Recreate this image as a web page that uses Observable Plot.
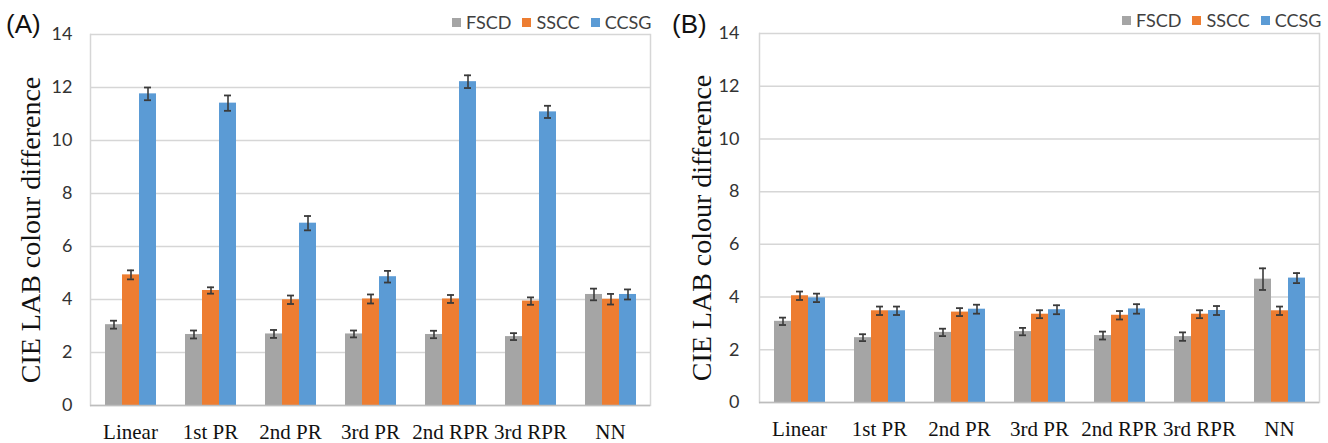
<!DOCTYPE html>
<html>
<head>
<meta charset="utf-8">
<script src="https://cdn.jsdelivr.net/npm/d3@7"></script>
<script src="https://cdn.jsdelivr.net/npm/@observablehq/plot@0.6"></script>
<style>
  html, body { margin: 0; padding: 0; background: #fff; }
  #wrap { position: relative; width: 1328px; height: 443px; overflow: hidden; background: #fff; }
  .panel { position: absolute; top: 0; width: 664px; height: 443px; }
  .tag { position: absolute; font-family: "Liberation Sans", Arial, sans-serif; font-size: 26px; line-height: 1; color: #111; }
  .leg { position: absolute; white-space: nowrap; width: max-content; }
  .leg, .leg * { font-family: Lato, sans-serif !important; font-size: 18px !important; color: #404040 !important; }
  .leg > div { min-height: 0 !important; margin: 0 !important; display: flex !important; flex-wrap: nowrap !important; align-items: center !important; width: max-content !important; }
  .leg > div > span, .leg > div > div { margin-right: 11px !important; display: inline-flex !important; align-items: center !important; }
  .leg svg { margin-right: 5px !important; }
</style>
</head>
<body>
<div id="wrap"></div>
<script>
const categories = ["Linear", "1st PR", "2nd PR", "3rd PR", "2nd RPR", "3rd RPR", "NN"];
const series = ["FSCD", "SSCC", "CCSG"];
const colors = ["#a5a5a5", "#ed7d31", "#5b9bd5"];
const yTicks = [0, 2, 4, 6, 8, 10, 12, 14];
const yTitle = "CIE LAB colour difference";

// Panel (A)
const aFSCD = [3.05, 2.68, 2.70, 2.70, 2.68, 2.60, 4.19];
const aSSCC = [4.93, 4.34, 3.99, 4.02, 4.02, 3.94, 4.01];
const aCCSG = [11.76, 11.41, 6.88, 4.86, 12.22, 11.08, 4.19];
const aErrFSCD = [0.15, 0.15, 0.15, 0.13, 0.14, 0.13, 0.22];
const aErrSSCC = [0.17, 0.12, 0.16, 0.17, 0.15, 0.14, 0.20];
const aErrCCSG = [0.24, 0.29, 0.27, 0.22, 0.24, 0.23, 0.19];

// Panel (B)
const bFSCD = [3.08, 2.46, 2.66, 2.69, 2.54, 2.50, 4.68];
const bSSCC = [4.05, 3.48, 3.43, 3.35, 3.31, 3.35, 3.48];
const bCCSG = [3.97, 3.48, 3.54, 3.52, 3.55, 3.49, 4.72];
const bErrFSCD = [0.14, 0.13, 0.14, 0.14, 0.15, 0.16, 0.41];
const bErrSSCC = [0.16, 0.16, 0.15, 0.15, 0.16, 0.15, 0.16];
const bErrCCSG = [0.16, 0.16, 0.17, 0.17, 0.18, 0.17, 0.19];

function buildRows(vals, errs) {
  const rows = [];
  categories.forEach((c, i) => {
    series.forEach((s, j) => {
      rows.push({cat: c, series: s, value: vals[j][i], err: errs[j][i]});
    });
  });
  return rows;
}

const rowsA = buildRows([aFSCD, aSSCC, aCCSG], [aErrFSCD, aErrSSCC, aErrCCSG]);
const rowsB = buildRows([bFSCD, bSSCC, bCCSG], [bErrFSCD, bErrSSCC, bErrCCSG]);

const serif = "'Liberation Serif', 'Times New Roman', serif";

function panel(rows, m, titleDx) {
  return Plot.plot({
    width: 664,
    height: 443,
    marginLeft: m.left,
    marginRight: m.right,
    marginTop: m.top,
    marginBottom: m.bottom,
    style: {background: "#fff", overflow: "visible"},
    fx: {domain: categories, padding: 0, label: null},
    x: {domain: series, paddingInner: 0, paddingOuter: 0.74, axis: null},
    y: {domain: [0, 14], axis: null},
    color: {domain: series, range: colors},
    marks: [
      Plot.gridY(yTicks, {stroke: "#d6d6d6", strokeOpacity: 1, strokeWidth: 1.5}),
      Plot.frame({anchor: "left", fx: categories[0], stroke: "#d6d6d6", strokeWidth: 1.5}),
      Plot.frame({anchor: "right", fx: categories[categories.length - 1], stroke: "#d6d6d6", strokeWidth: 1.5}),
      Plot.barY(rows, {fx: "cat", x: "series", y: "value", fill: "series"}),
      Plot.ruleY([0], {stroke: "#bdbdbd", strokeWidth: 1.5}),
      Plot.ruleX(rows, {fx: "cat", x: "series", y1: d => d.value - d.err, y2: d => d.value + d.err, stroke: "#3a3a3a", strokeWidth: 1.6}),
      Plot.tickY(rows, {fx: "cat", x: "series", y: d => d.value - d.err, insetLeft: 5, insetRight: 5, stroke: "#3a3a3a", strokeWidth: 1.8}),
      Plot.tickY(rows, {fx: "cat", x: "series", y: d => d.value + d.err, insetLeft: 5, insetRight: 5, stroke: "#3a3a3a", strokeWidth: 1.8}),
      Plot.axisY({ticks: yTicks, tickSize: 0, tickPadding: m.tickPad, fontSize: 18, fontFamily: "Lato, sans-serif", fill: "#333", label: null}),
      Plot.axisFx({anchor: "bottom", tickSize: 0, tickPadding: 19, fontSize: 21, fontFamily: serif, fill: "#111", label: null}),
      Plot.text([yTitle], {fx: () => categories[0], frameAnchor: "left", textAnchor: "middle", lineAnchor: "middle", rotate: -90, dx: titleDx, dy: 10, fontSize: 28, fontFamily: serif, fill: "#111", text: d => d})
    ]
  });
}

const wrap = document.getElementById("wrap");

function addPanel(left, rows, m, titleDx, tag, tagPos, legPos) {
  const div = document.createElement("div");
  div.className = "panel";
  div.style.left = left + "px";
  div.appendChild(panel(rows, m, titleDx));
  wrap.appendChild(div);

  const t = document.createElement("div");
  t.className = "tag";
  t.textContent = tag;
  t.style.left = tagPos[0] + "px";
  t.style.top = tagPos[1] + "px";
  wrap.appendChild(t);

  const lg = document.createElement("div");
  lg.className = "leg";
  lg.style.left = legPos[0] + "px";
  lg.style.top = legPos[1] + "px";
  lg.appendChild(Plot.legend({color: {domain: series, range: colors}, swatchSize: 9, className: "lg"}));
  wrap.appendChild(lg);
}

addPanel(0, rowsA, {left: 88, right: 12, top: 34, bottom: 38, tickPad: 18}, -59.5, "(A)", [6, 11], [452, 11]);
addPanel(664, rowsB, {left: 93, right: 7, top: 33, bottom: 41, tickPad: 20}, -57, "(B)", [672, 11], [1122, 9]);
</script>
</body>
</html>
